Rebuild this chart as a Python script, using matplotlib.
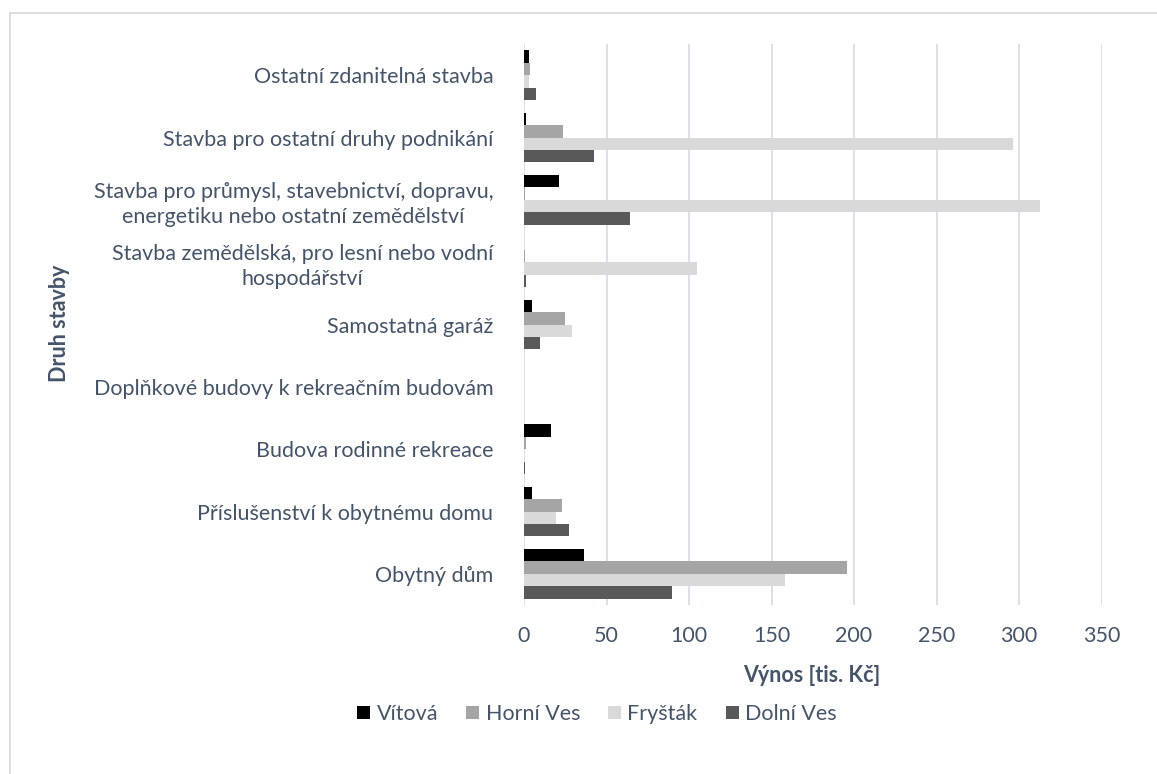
import matplotlib
matplotlib.use("Agg")
import matplotlib.pyplot as plt
from matplotlib.patches import Rectangle
import numpy as np

# Kategorie (odspodu nahoru) a hodnoty výnosu [tis. Kč]
kategorie = [
    "Obytný dům",
    "Příslušenství k obytnému domu",
    "Budova rodinné rekreace",
    "Doplňkové budovy k rekreačním budovám",
    "Samostatná garáž",
    "Stavba zemědělská, pro lesní nebo vodní\nhospodářství",
    "Stavba pro průmysl, stavebnictví, dopravu,\nenergetiku nebo ostatní zemědělství",
    "Stavba pro ostatní druhy podnikání",
    "Ostatní zdanitelná stavba",
]
vitova = [36.5, 4.7, 16.2, 0, 4.7, 0, 21.5, 1.2, 3.2]
horni_ves = [195.6, 23.3, 1.4, 0, 24.9, 0.5, 0.8, 23.7, 3.6]
frystak = [158.4, 19.3, 0.3, 0, 29.0, 105.0, 313.0, 296.5, 2.8]
dolni_ves = [89.7, 27.5, 0.5, 0, 9.9, 1.4, 64.0, 42.5, 7.5]

obce = ["Vítová", "Horní Ves", "Fryšták", "Dolní Ves"]
barvy = ["#000000", "#A5A5A5", "#D9D9D9", "#595959"]
x_ticks = [0, 50, 100, 150, 200, 250, 300, 350]

plt.rcParams["font.family"] = ["Lato", "DejaVu Sans"]
text_color = "#44546A"
fs = 15.5

fig = plt.figure(figsize = (11.57, 7.74), dpi = 100)
ax = fig.add_axes([524 / 1157, 1 - 605 / 774, (1101.5 - 524) / 1157, (605 - 44) / 774])

y = np.arange(len(kategorie))
h = 0.2
serie = [vitova, horni_ves, frystak, dolni_ves]
offsets = [1.5 * h, 0.5 * h, -0.5 * h, -1.5 * h]
for vals, off, col, name in zip(serie, offsets, barvy, obce):
    ax.barh(y + off, vals, height = h, color = col, label = name, zorder = 3)

ax.set_xlim(0, 350)
ax.set_ylim(-0.5, len(kategorie) - 0.5)
ax.set_xticks(x_ticks)
ax.set_xticklabels([str(t) for t in x_ticks])
ax.set_yticks(y)
ax.set_yticklabels(kategorie)
for lbl in ax.get_yticklabels():
    lbl.set_multialignment("center")
    lbl.set_linespacing(1.3)

ax.tick_params(axis = "y", length = 0, pad = 22, labelsize = fs, labelcolor = text_color)
ax.tick_params(axis = "x", length = 0, pad = 15, labelsize = fs, labelcolor = text_color)
ax.grid(axis = "x", color = "#D9DEE6", linewidth = 1.3, zorder = 0)
for s in ax.spines.values():
    s.set_visible(False)

fig.text(812 / 1157, 1 - 675 / 774, "Výnos [tis. Kč]", ha = "center", va = "center",
         fontsize = fs, fontweight = "bold", color = text_color)
fig.text(59 / 1157, 1 - 323 / 774, "Druh stavby", ha = "center", va = "center",
         rotation = 90, fontsize = fs, fontweight = "bold", color = text_color)

fig.legend(loc = "center", bbox_to_anchor = (597 / 1157, 1 - 714 / 774), ncol = 4,
           frameon = False, fontsize = fs, labelcolor = text_color,
           handlelength = 0.6, handleheight = 0.6, handletextpad = 0.3, columnspacing = 1.3)

# rámeček grafu
fig.add_artist(Rectangle((9.5 / 1157, -0.1), 1.2, 1.1 - 13.5 / 774, transform = fig.transFigure,
                         fill = False, edgecolor = "#D9D9D9", linewidth = 1.2))

fig.savefig("out.png", dpi = 100)
